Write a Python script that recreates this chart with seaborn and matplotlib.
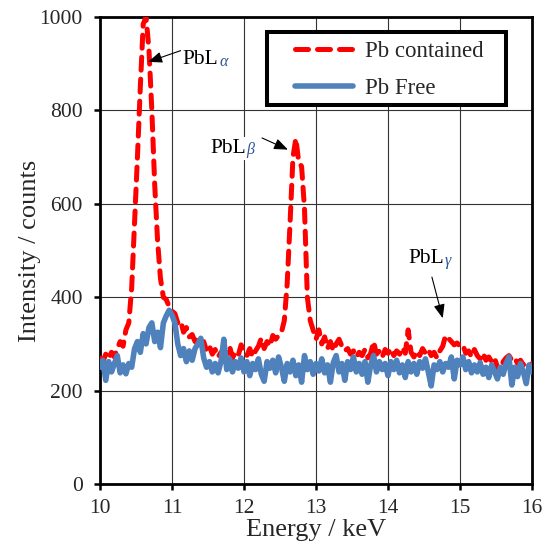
import numpy as np
import pandas as pd
import matplotlib
matplotlib.use("Agg")
import matplotlib.pyplot as plt
from matplotlib.patches import Rectangle
import seaborn as sns

# Energy axis (keV), 0.04 keV steps from 10 to 16
energy = [round(10 + 0.04 * i, 2) for i in range(151)]

pb_contained = [
    270, 262, 278, 268, 282, 272, 290, 305, 295, 330,
    345, 420, 560, 700, 850, 985, 1000, 930, 800, 640,
    520, 440, 400, 395, 380, 370, 365, 345, 350, 325,
    335, 315, 320, 305, 312, 298, 305, 285, 295, 278,
    288, 272, 282, 275, 278, 295, 270, 282, 275, 298,
    285, 275, 290, 272, 285, 295, 312, 290, 305, 295,
    318, 310, 318, 325, 350, 430, 560, 700, 740, 690,
    680, 590, 400, 350, 330, 310, 330, 300, 315, 290,
    305, 285, 300, 310, 295, 285, 290, 278, 285, 272,
    282, 275, 288, 270, 280, 305, 278, 285, 272, 288,
    280, 290, 275, 285, 278, 292, 280, 330, 282, 272,
    285, 275, 290, 280, 288, 275, 282, 270, 285, 295,
    318, 312, 305, 298, 302, 295, 298, 280, 285, 272,
    288, 275, 268, 280, 265, 272, 262, 270, 250, 240,
    262, 270, 275, 265, 270, 258, 265, 255, 262, 250,
    258,
]

pb_free = [
    250, 265, 222, 262, 240, 258, 275, 238, 255, 236,
    258, 250, 290, 305, 282, 322, 300, 335, 345, 305,
    325, 292, 345, 360, 372, 362, 345, 300, 275, 290,
    262, 285, 265, 290, 300, 312, 270, 250, 262, 240,
    258, 238, 262, 310, 245, 268, 240, 262, 248, 270,
    240, 262, 232, 258, 245, 268, 235, 220, 262, 248,
    265, 238, 272, 250, 220, 258, 240, 265, 232, 255,
    218, 275, 245, 262, 235, 258, 242, 268, 238, 255,
    218, 260, 275, 240, 258, 222, 262, 245, 272, 240,
    258, 235, 262, 218, 255, 275, 240, 262, 245, 258,
    232, 262, 245, 265, 238, 255, 228, 262, 240, 258,
    235, 262, 248, 268, 240, 210, 255, 245, 262, 240,
    258, 250, 272, 225, 265, 255, 272, 245, 262, 238,
    255, 240, 260, 235, 250, 228, 255, 240, 225, 250,
    235, 258, 272, 212, 250, 230, 258, 240, 215, 255,
    240,
]

x_ticks = [10, 11, 12, 13, 14, 15, 16]
y_ticks = [0, 200, 400, 600, 800, 1000]
series_names = ["Pb contained", "Pb Free"]
peak_main = ["PbL", "PbL", "PbL"]
peak_sub = [r"$\alpha$", r"$\beta$", r"$\gamma$"]
peak_text_xy = [(11.15, 899), (11.53, 709), (14.28, 473)]
peak_arrow_tail = [(11.14, 929), (12.25, 741), (14.61, 443)]
peak_arrow_head = [(10.67, 904), (12.61, 716), (14.76, 355)]

df = pd.DataFrame({"energy": energy, "contained": pb_contained, "free": pb_free})

sns.set_theme(style="white")
plt.rcParams["font.family"] = ["Liberation Serif", "DejaVu Serif"]
plt.rcParams["mathtext.fontset"] = "custom"
plt.rcParams["mathtext.rm"] = "Liberation Serif"
plt.rcParams["mathtext.it"] = "Liberation Serif:italic"

fig = plt.figure(figsize=(5.54, 5.50), dpi=100)
ax = fig.add_axes([100 / 554, 1 - 484 / 550, 432 / 554, 467 / 550])

sns.lineplot(data=df, x="energy", y="contained", ax=ax, color="#FF0000",
             linewidth=3.6, label=series_names[0], zorder=3)
sns.lineplot(data=df, x="energy", y="free", ax=ax, color="#4F81BD",
             linewidth=4.0, label=series_names[1], zorder=4)
red_line = ax.lines[0]
red_line.set_linestyle((0, (2.6, 1.8)))
red_line.set_dash_capstyle("round")
ax.lines[1].set_solid_capstyle("round")
ax.lines[1].set_solid_joinstyle("round")

ax.set_xlim(10, 16)
ax.set_ylim(0, 1000)
ax.set_xticks(x_ticks)
ax.set_yticks(y_ticks)
ax.set_xticklabels([str(t) for t in x_ticks])
ax.set_yticklabels([str(t) for t in y_ticks])
ax.grid(True, color="#333333", linewidth=0.8, zorder=0)
ax.set_axisbelow(True)
for s in ax.spines.values():
    s.set_color("black")
    s.set_linewidth(2.0)
ax.tick_params(axis="both", which="major", direction="out", length=4.5, width=1.8,
               color="black", labelsize=15.5, bottom=True, left=True)
ax.tick_params(axis="x", pad=6)
ax.tick_params(axis="y", pad=8)

ax.set_xlabel("Energy / keV", fontsize=19)
ax.set_ylabel("Intensity / counts", fontsize=19)
ax.xaxis.set_label_coords(0.5, -0.074)
ax.yaxis.set_label_coords(-0.137, 0.50)

for m, s, txy, tail, head in zip(peak_main, peak_sub, peak_text_xy,
                                 peak_arrow_tail, peak_arrow_head):
    ax.annotate("", xy=head, xytext=tail, zorder=5,
                arrowprops=dict(arrowstyle="-|>,head_length=0.7,head_width=0.28",
                                color="black", lw=0.8, shrinkA=0, shrinkB=0))
    t = ax.text(txy[0], txy[1], m, fontsize=15.5, ha="left", va="baseline",
                color="black", zorder=6,
                bbox=dict(boxstyle="square,pad=0.1", fc="white", ec="none"))
    ax.annotate(s, xy=(1, 0.22), xycoords=t, xytext=(0.3, -0.5),
                textcoords="offset points", ha="left", va="baseline",
                fontsize=11.5, color="#2F5597", zorder=6,
                bbox=dict(boxstyle="square,pad=0.1", fc="white", ec="none"))

# legend box (thick black frame)
frame = Rectangle((0.3866, 0.8116), 0.553, 0.156, transform=ax.transAxes,
                  facecolor="white", edgecolor="black", linewidth=2.9, zorder=6)
ax.add_patch(frame)
leg = ax.legend(loc="center left", bbox_to_anchor=(0.4255, 0.886), borderpad=0,
                fontsize=16.5, frameon=False, handlelength=2.5,
                labelspacing=0.68, handletextpad=0.55)
leg.set_zorder(7)

fig.savefig("out.png", dpi=100, facecolor="white")
